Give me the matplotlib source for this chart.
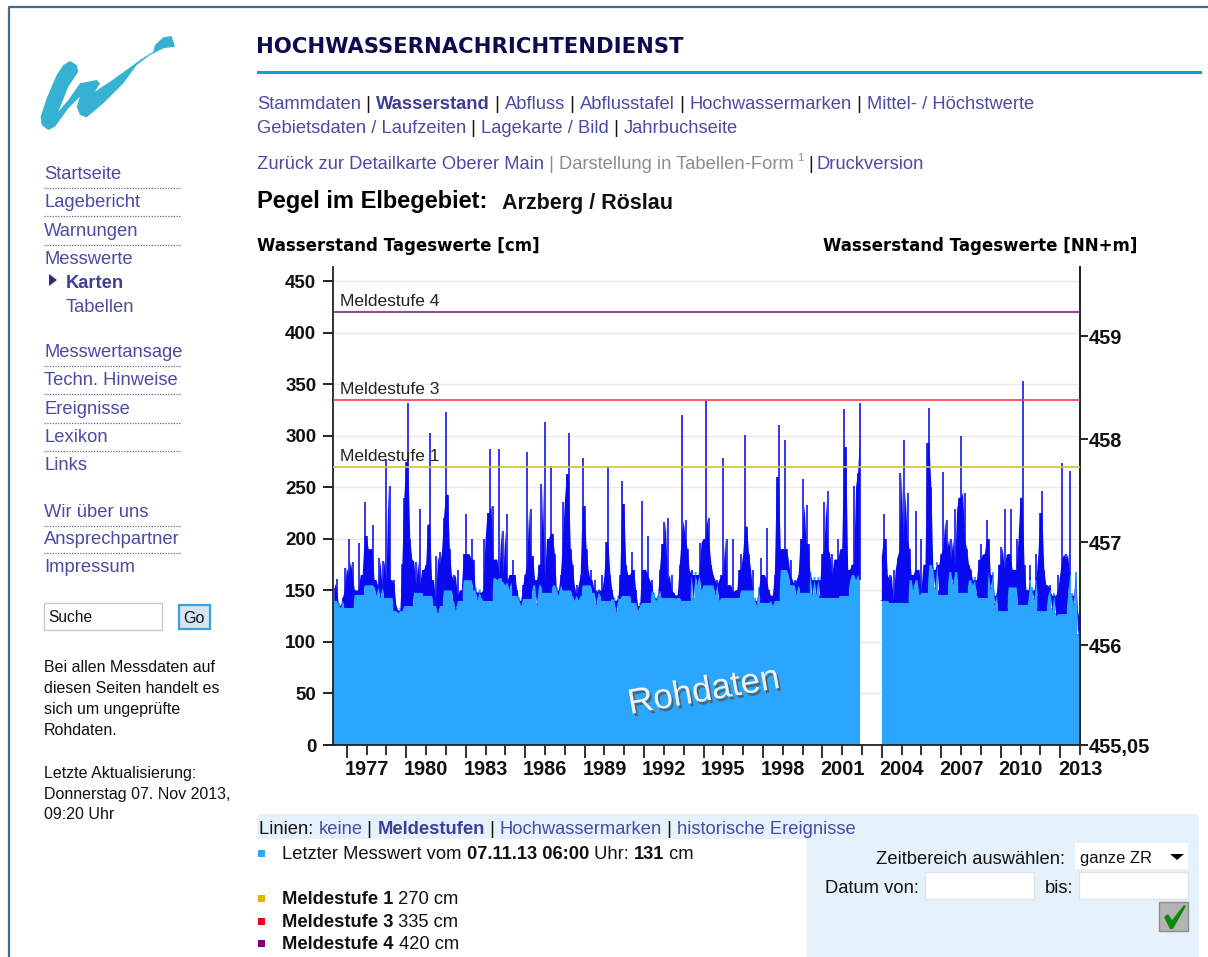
import numpy as np
import matplotlib
matplotlib.use('Agg')
import matplotlib.pyplot as plt
from matplotlib.patches import Polygon, Rectangle
import matplotlib.patheffects as pe

plt.rcParams['font.family'] = ['Liberation Sans', 'DejaVu Sans']

W, H = 1208, 957
nan = float('nan')

# ---- data -----------------------------------------------------------------
first_year = 1975.40
year_step = 0.1
stage_cm = [
    152,161,135,133,143,172,150,200,165,178,
    150,148,196,150,165,236,203,155,190,214,
    160,145,182,142,179,148,278,160,251,155,
    160,135,128,130,176,240,275,332,200,180,
    148,178,155,229,150,170,175,214,303,160,
    140,183,127,187,175,220,323,243,190,160,
    165,130,170,145,150,185,224,185,175,200,
    180,150,140,148,142,200,150,225,287,175,
    232,180,160,287,165,208,155,224,150,165,
    180,165,150,140,135,155,165,284,175,229,
    183,160,135,175,253,160,314,150,200,271,
    205,185,150,145,165,236,195,263,303,190,
    175,140,155,140,165,279,232,190,160,170,
    150,160,135,150,145,165,150,197,271,165,
    150,140,128,142,165,256,234,175,155,165,
    187,170,150,130,135,237,170,165,203,155,
    160,145,140,142,170,195,216,160,220,150,
    165,148,142,145,175,320,200,218,190,160,
    170,140,165,155,196,150,200,334,195,220,
    175,165,145,160,140,165,279,150,200,155,
    148,200,145,150,170,185,170,301,212,185,
    150,170,140,135,150,182,165,160,211,150,
    145,135,165,260,311,185,190,296,190,165,
    180,155,160,145,165,200,258,195,233,195,
    165,145,160,145,160,145,185,236,190,247,
    165,185,150,180,200,160,190,326,289,170,
    160,175,251,160,264,332,nan,nan,nan,nan,
    nan,nan,nan,nan,nan,nan,141,224,200,160,
    165,140,170,138,182,264,190,296,200,245,
    190,165,150,227,170,145,200,150,175,293,
    327,250,170,150,175,150,185,265,190,218,
    180,200,155,229,175,240,300,200,245,190,
    175,170,155,160,145,180,195,165,185,218,
    200,150,165,135,145,175,192,160,229,170,
    185,229,155,170,200,150,240,353,175,150,
    140,175,150,140,185,145,225,247,170,155,
    145,155,130,145,125,165,150,274,180,185,
    145,266,145,135,165,105,130,
]
# lower envelope of the series (light-blue top), one value per half year
floor_cm = [
    140,133,146,155,153,143,130,135,148,145,
    135,150,140,160,150,140,162,158,145,142,
    155,148,155,150,145,155,148,140,142,145,
    138,138,150,143,143,140,165,155,155,143,
    143,150,150,138,140,170,155,148,175,143,
    143,145,165,160,nan,140,138,138,160,148,
    175,146,168,148,160,143,168,130,153,136,
    160,130,150,127,165,120,
]
level_names = ['Meldestufe 1', 'Meldestufe 3', 'Meldestufe 4']
level_cm = [270, 335, 420]
level_colors = ['#cfc050', '#f5404a', '#8a2a90']
legend_colors = ['#d9b300', '#e8001c', '#800080']
left_ticks = [0, 50, 100, 150, 200, 250, 300, 350, 400, 450]
right_ticks = [455.03, 456, 457, 458, 459]
right_labels = ['455,05', '456', '457', '458', '459']
pegel_zero = 455.03
label_years = list(range(1977, 2014, 3))
long_tick_years = list(range(1976, 2013, 3))
short_tick_years = [y for y in range(1976, 2014) if y not in long_tick_years]

# ---- figure ---------------------------------------------------------------
fig = plt.figure(figsize=(W / 100, H / 100), dpi=100, facecolor='white')
bg = fig.add_axes([0, 0, 1, 1], zorder=0)
bg.set_xlim(0, W); bg.set_ylim(H, 0); bg.axis('off')
LINK = '#4b4ba6'
GREY = '#8c8c8c'
DARK = '#111111'
BODY = 13.2
WIDE = ['DejaVu Sans']


def T(x, y, s, size=BODY, color=DARK, weight='normal', ha='left', **kw):
    # y is the visual middle of a capital letter, text stands on its baseline
    return bg.text(x, y + 1 + size * 0.4, s, fontsize=size, color=color, fontweight=weight,
                   ha=ha, va='baseline', **kw)


def runs(x, y, parts, size=BODY):
    r = fig.canvas.get_renderer()
    for s, c, w in parts:
        t = T(x, y, s, size=size, color=c, weight=w)
        x += t.get_window_extent(r).width


def rect(x0, y0, x1, y1, fc, ec='none', lw=0, z=1):
    bg.add_patch(Rectangle((x0, y0), x1 - x0, y1 - y0, fc=fc, ec=ec, lw=lw, zorder=z))


# page frame
bg.plot([8.5, 8.5, W], [H, 6.5, 6.5], color='#3f6c86', lw=1.6)

# logo
logo_zoom = [(122,350),(140,295),(170,225),(190,195),(210,183),(230,195),(235,215),(205,260),(175,335),
             (205,300),(240,250),(290,240),(300,250),(285,275),(330,245),(400,195),(420,180),(460,155),
             (465,135),(490,112),(515,108),(525,140),(490,145),(450,165),(410,195),(370,250),(310,310),
             (260,352),(240,345),(230,320),(240,290),(205,325),(165,380),(145,390),(125,375)]
bg.add_patch(Polygon([(a / 3, b / 3) for a, b in logo_zoom], closed=True, fc='#35b2d2', ec='none'))

# sidebar
for s, y, dotted in [('Startseite', 173, 1), ('Lagebericht', 201, 1), ('Warnungen', 230, 1),
                     ('Messwerte', 258, 0), ('Messwertansage', 351, 1), ('Techn. Hinweise', 379, 1),
                     ('Ereignisse', 408, 1), ('Lexikon', 436, 1), ('Links', 464, 0),
                     ('Wir über uns', 511, 1), ('Ansprechpartner', 538, 1), ('Impressum', 566, 0)]:
    T(44, y, s, color=LINK)
    if dotted:
        bg.plot([44, 181], [y + 14.5, y + 14.5], color='#666688', lw=0.9, ls=(0, (1, 1.2)))
T(66, 282, 'Karten', color='#3e3e96', weight='bold')
T(66, 306, 'Tabellen', color=LINK)
bg.add_patch(Polygon([(49, 274), (49, 286), (57, 280)], closed=True, fc='#2e2e6e', ec='none'))

rect(44, 603, 162, 630, 'white', '#c8c8d0', 1)
T(48, 617, 'Suche', size=11.2)
rect(178.5, 604.5, 209.5, 628.5, '#d6e6f0', '#3aa0d8', 1.6)
T(194, 617, 'Go', size=11.5, ha='center')
for i, s in enumerate(['Bei allen Messdaten auf', 'diesen Seiten handelt es', 'sich um ungeprüfte', 'Rohdaten.']):
    T(44, 666 + i * 21, s, size=11.5)
for s, y in [('Letzte Aktualisierung:', 772), ('Donnerstag 07. Nov 2013,', 793), ('09:20 Uhr', 813)]:
    T(44, y, s, size=11.5)

# header
T(256, 46, 'HOCHWASSERNACHRICHTENDIENST', size=15.2, color='#0b0b50', weight='bold', family=WIDE)
rect(257, 70.5, 1202, 73.5, '#0aa3d2')

sep = (' | ', DARK, 'normal')
runs(257, 103, [('Stammdaten', LINK, 'normal'), sep, ('Wasserstand', '#3e3e96', 'bold'), sep,
                ('Abfluss', LINK, 'normal'), sep, ('Abflusstafel', LINK, 'normal'), sep,
                ('Hochwassermarken', LINK, 'normal'), sep, ('Mittel- / Höchstwerte', LINK, 'normal')])
runs(257, 127, [('Gebietsdaten / Laufzeiten', LINK, 'normal'), sep, ('Lagekarte / Bild', LINK, 'normal'),
                sep, ('Jahrbuchseite', LINK, 'normal')])
runs(257, 163, [('Zurück zur Detailkarte Oberer Main', LINK, 'normal'), (' | ', GREY, 'normal'),
                ('Darstellung in Tabellen-Form', GREY, 'normal')])
T(797, 157, '1', size=8, color=GREY)
T(808, 163, '|', color=DARK)
T(816, 163, 'Druckversion', color=LINK)

T(257, 200, 'Pegel im Elbegebiet:', size=17, color='black', weight='bold')
T(502, 202, 'Arzberg / Röslau', size=15.5, color='#111111', weight='bold')
T(257, 245, 'Wasserstand Tageswerte [cm]', size=12, color='black', weight='bold', family=WIDE)
T(1137, 245, 'Wasserstand Tageswerte [NN+m]', size=12, color='black', weight='bold', ha='right', family=WIDE)

# ---- chart ----------------------------------------------------------------
px_left, px_right, px_bottom, px_top = 333, 1080, 745, 267
ax = fig.add_axes([px_left / W, 1 - px_bottom / H, (px_right - px_left) / W, (px_bottom - px_top) / H], zorder=2)
ax.patch.set_alpha(0)
stage = np.array(stage_cm, dtype=float)
years = first_year + year_step * np.arange(stage.size)
floor = np.repeat(np.array(floor_cm, dtype=float), 5)[:stage.size]
floor = np.where(np.isfinite(stage), np.fmin(floor, stage), nan)
band = np.array([np.nanmedian(stage[max(0, i - 1):i + 2]) if np.isfinite(stage[i]) else nan
                 for i in range(stage.size)])
band = np.where(np.isfinite(stage), np.maximum(band, floor), nan)
ok = np.isfinite(stage)
ax.set_xlim(1975.3, 2012.95)
ax.set_ylim(0, 464)

ax.fill_between(years, 0, floor + 3, where=ok, color='#2aa6ff', lw=0, zorder=2, step='mid')
ax.fill_between([1975.3, first_year], 0, [floor[0], floor[0]], color='#2aa6ff', lw=0, zorder=2)
ax.fill_between(years, floor, band, where=ok, color='#0a0af0', lw=0, zorder=3)
ax.vlines(years[ok], floor[ok], stage[ok], color='#0a0af0', lw=1.15, zorder=3)

ax.set_yticks(left_ticks)
ax.set_yticklabels([str(v) for v in left_ticks], fontsize=13.5, fontweight='bold', color='#111111')
ax.grid(axis='y', color='#e9e9e9', lw=1, zorder=0)
ax.set_axisbelow(True)
ax.tick_params(axis='y', length=7, width=1.4, color='#222222', pad=5)

ax.set_xticks(long_tick_years)
ax.set_xticklabels([])
ax.tick_params(axis='x', which='major', length=9.5, width=1.3, color='#222222')
ax.set_xticks(short_tick_years, minor=True)
ax.set_xticklabels([str(y) if y in label_years else '' for y in short_tick_years],
                   minor=True, fontsize=14.4, fontweight='bold', color='#111111')
ax.tick_params(axis='x', which='minor', length=7, width=1.3, color='#222222', pad=3.5)

for name, v, c in zip(level_names, level_cm, level_colors):
    ax.axhline(v, color=c, lw=1.25, zorder=4)
    ax.annotate(name, (0, v), xycoords=('axes fraction', 'data'), xytext=(6.5, 3), textcoords='offset pixels',
                fontsize=12.5, color='#222222', va='bottom', zorder=5)

ax.text(0.4965, 0.112, 'Rohdaten', transform=ax.transAxes, rotation=10, ha='center', va='center',
        fontsize=25.5, color='#eef3f8', zorder=6,
        path_effects=[pe.withSimplePatchShadow(offset=(1.5, -2), shadow_rgbFace='#555555', alpha=0.8)])

sec = ax.secondary_yaxis('right', functions=(lambda c: pegel_zero + c / 100, lambda h: (h - pegel_zero) * 100))
sec.set_yticks(right_ticks)
sec.set_yticklabels(right_labels, fontsize=14.4, fontweight='bold', color='#111111')
sec.tick_params(axis='y', length=6, width=1.4, color='#222222', pad=0.5)
for a in (ax, sec):
    for side, sp in a.spines.items():
        sp.set_color('#222222'); sp.set_linewidth(1.3)
ax.spines['top'].set_visible(False)
ax.spines['right'].set_visible(True)

# ---- bottom panel ---------------------------------------------------------
PANEL = '#e5f2fc'
rect(257, 814, 1199, 839, PANEL)
rect(807, 814, 1199, H, PANEL)
runs(259, 828, [('Linien: ', DARK, 'normal'), ('keine', LINK, 'normal'), sep, ('Meldestufen', '#3e3e96', 'bold'),
                sep, ('Hochwassermarken', LINK, 'normal'), sep, ('historische Ereignisse', LINK, 'normal')])
rect(258, 850, 265, 857, '#2aa6ff')
runs(282, 853, [('Letzter Messwert vom ', DARK, 'normal'), ('07.11.13 06:00', DARK, 'bold'), (' Uhr: ', DARK, 'normal'),
                ('131', DARK, 'bold'), (' cm', DARK, 'normal')])
for name, v, c, y in zip(level_names, level_cm, legend_colors, [898, 921, 943]):
    rect(258, y - 3.5, 265, y + 3.5, c)
    runs(282, y, [(name, DARK, 'bold'), (f' {v} cm', DARK, 'normal')])

T(1065, 858, 'Zeitbereich auswählen:', ha='right')
rect(1075, 843, 1188, 869, 'white')
T(1080, 857, 'ganze ZR', size=11.9)
bg.add_patch(Polygon([(1170, 854), (1184, 854), (1177, 860)], closed=True, fc='black', ec='none', zorder=3))
T(919, 887, 'Datum von:', ha='right')
rect(925, 872, 1034, 899, 'white', '#dfe4e8', 1)
T(1073, 887, 'bis:', ha='right')
rect(1079, 872, 1188, 899, 'white', '#dfe4e8', 1)
rect(1159, 902, 1188, 931, '#b4b4b4', '#8d8d8d', 1)
bg.add_patch(Polygon([(1164, 917), (1168, 914), (1172, 920), (1184, 905), (1186, 906), (1173, 929), (1170, 929)],
                     closed=True, fc='#0a8a0a', ec='none', zorder=3))

fig.savefig('out.png', dpi=100, facecolor='white')
